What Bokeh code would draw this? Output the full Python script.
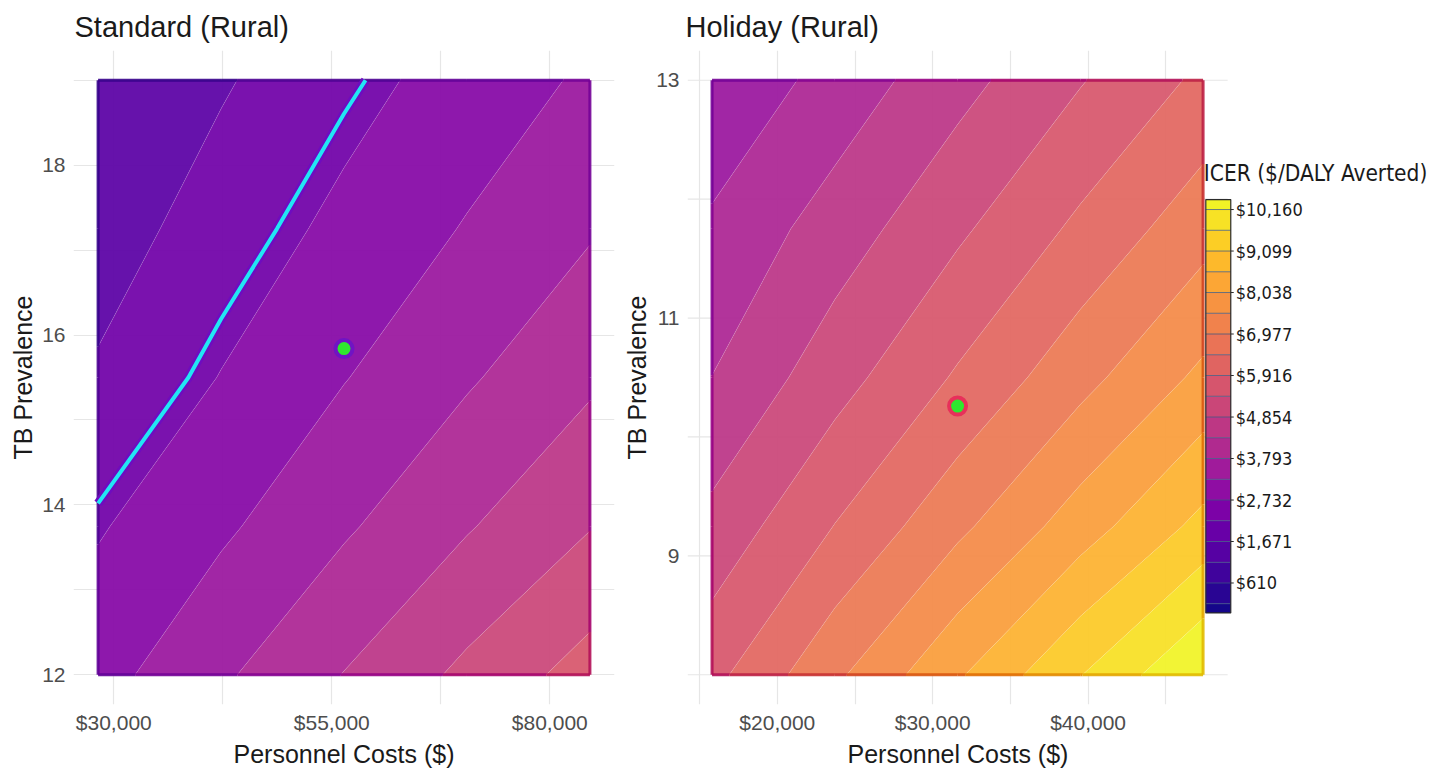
import colorsys
import numpy as np
from bokeh.plotting import figure
from bokeh.layouts import row
from bokeh.models import FixedTicker, Range1d, NumeralTickFormatter, Title
from bokeh.palettes import Plasma256
from bokeh.embed import file_html
from bokeh.resources import INLINE
from bokeh.core.properties import value

# ---------------- data ----------------
std_title = "Standard (Rural)"
hol_title = "Holiday (Rural)"
x_label = "Personnel Costs ($)"
y_label = "TB Prevalence"
cbar_title = "ICER ($/DALY Averted)"

# Standard (Rural): ICER grid, rows = TB prevalence, cols = personnel cost
std_cost = [28200, 42300, 56400, 70500, 84600]
std_prev = [12.0, 13.75, 15.5, 17.25, 19.0]
std_icer = [
    [3600, 4240, 4870, 5510, 6140],
    [3215, 3700, 4250, 4810, 5360],
    [2790, 3280, 3770, 4260, 4760],
    [2510, 2950, 3390, 3830, 4270],
    [2280, 2680, 3080, 3480, 3880],
]
std_base_cost = [56400]
std_base_prev = [15.84]
std_threshold = 3150

# Holiday (Rural)
hol_cost = [15800, 23700, 31600, 39500, 47400]
hol_prev = [8.0, 9.25, 10.5, 11.75, 13.0]
hol_icer = [
    [6290, 7400, 8500, 9610, 10710],
    [5546, 6460, 7380, 8310, 9260],
    [4861, 5700, 6510, 7330, 8160],
    [4414, 5100, 5820, 6560, 7300],
    [3880, 4520, 5200, 5880, 6560],
]
hol_base_cost = [31600]
hol_base_prev = [10.26]

cbar_ticks = [610, 1671, 2732, 3793, 4854, 5916, 6977, 8038, 9099, 10160]
cbar_low, cbar_high = -156, 10415

std_xticks = [30000, 55000, 80000]
std_xgrid = [30000, 42500, 55000, 67500, 80000]
std_yticks = [12, 14, 16, 18]
std_ygrid = [12, 13, 14, 15, 16, 17, 18, 19]
hol_xticks = [20000, 30000, 40000]
hol_xgrid = [15000, 20000, 25000, 30000, 35000, 40000, 45000]
hol_yticks = [9, 11, 13]
hol_ygrid = [8, 9, 10, 11, 12, 13]

# ---------------- contour levels / colours ----------------
half = (cbar_ticks[1] - cbar_ticks[0]) / 2
levels = [cbar_low, cbar_ticks[0] - half]
for a, b in zip(cbar_ticks, cbar_ticks[1:]):
    levels += [a, (a + b) / 2]
levels += [cbar_ticks[-1]]
fill_levels = levels + [11000]
band_lo = fill_levels[:-1]
band_hi = fill_levels[1:]
band_mid = [(lo + min(hi, cbar_high)) / 2 for lo, hi in zip(band_lo, band_hi)]

PLOT_LOW = 951   # colour scale start used inside the panels


def plasma_t(t):
    return Plasma256[max(0, min(255, int(round(t * 255))))]


cbar_colors = [plasma_t((m - cbar_low) / (cbar_high - cbar_low)) for m in band_mid]
fill_colors = [plasma_t((m - PLOT_LOW) / (cbar_high - PLOT_LOW)) for m in band_mid]


def edge_colour(t):
    c = plasma_t(t)
    r, g, b = int(c[1:3], 16) / 255, int(c[3:5], 16) / 255, int(c[5:7], 16) / 255
    h, s, v = colorsys.rgb_to_hsv(r, g, b)
    r, g, b = colorsys.hsv_to_rgb(h, min(1.0, s * 1.35), v * 0.9)
    return "#%02x%02x%02x" % (int(r * 255), int(g * 255), int(b * 255))


edge_by_level = {}
for lo, m in zip(band_lo, band_mid):
    edge_by_level[round(lo, 3)] = edge_colour((m - PLOT_LOW) / (cbar_high - PLOT_LOW) - 0.07)

FONT = "Liberation Sans"
NARROW = "DejaVu Sans Condensed, DejaVu Sans, sans-serif"
GRID = "#e6e6e6"
H = 770


def style(p, title_offset):
    p.title.text_font = FONT
    p.title.text_font_size = "29px"
    p.title.text_font_style = "normal"
    p.title.text_color = "#1a1a1a"
    p.title.align = "left"
    p.title.offset = title_offset
    p.title.standoff = 16
    p.outline_line_color = None
    p.background_fill_color = "white"
    p.border_fill_color = "white"
    for ax in (p.xaxis[0], p.yaxis[0]):
        ax.axis_line_color = None
        ax.major_tick_line_color = None
        ax.minor_tick_line_color = None
        ax.major_tick_out = 0
        ax.major_tick_in = 0
        ax.minor_tick_out = 0
        ax.minor_tick_in = 0
        ax.major_label_text_font = FONT
        ax.major_label_text_font_size = "21px"
        ax.major_label_text_color = "#4d4d4d"
        ax.axis_label_text_font = FONT
        ax.axis_label_text_font_size = "25px"
        ax.axis_label_text_font_style = "normal"
        ax.axis_label_text_color = "#1a1a1a"
    p.xaxis[0].major_label_standoff = 6
    p.xaxis[0].axis_label_standoff = 3
    p.yaxis[0].major_label_standoff = 8
    p.yaxis[0].axis_label_standoff = 2
    p.xaxis[0].formatter = NumeralTickFormatter(format="$0,0")
    p.yaxis.axis_label = y_label
    p.grid.grid_line_color = GRID
    p.grid.grid_line_width = 1.2


def add_edges(p, cr, xs_dom, ys_dom):
    """Darker outline of the filled area, coloured per band (as in the original)."""
    try:
        d = cr.fill_renderer.data_source.data
        xmin, xmax = min(xs_dom), max(xs_dom)
        ymin, ymax = min(ys_dom), max(ys_dom)
        ex = (xmax - xmin) * 1e-6
        ey = (ymax - ymin) * 1e-6
        x0, y0, x1, y1, cs = [], [], [], [], []
        for xb, yb, lo in zip(d["xs"], d["ys"], d["lower_levels"]):
            col = edge_by_level.get(round(float(lo), 3), "#333333")
            for xp, yp in zip(xb, yb):
                for xr, yr in zip(xp, yp):
                    xr = np.asarray(xr, dtype=float)
                    yr = np.asarray(yr, dtype=float)
                    n = len(xr)
                    for i in range(n):
                        j = (i + 1) % n
                        xa, ya, xb2, yb2 = xr[i], yr[i], xr[j], yr[j]
                        on = ((abs(xa - xmin) < ex and abs(xb2 - xmin) < ex) or
                              (abs(xa - xmax) < ex and abs(xb2 - xmax) < ex) or
                              (abs(ya - ymin) < ey and abs(yb2 - ymin) < ey) or
                              (abs(ya - ymax) < ey and abs(yb2 - ymax) < ey))
                        if on and (xa != xb2 or ya != yb2):
                            x0.append(xa); y0.append(ya); x1.append(xb2); y1.append(yb2); cs.append(col)
        if x0:
            p.segment(x0=x0, y0=y0, x1=x1, y1=y1, line_color=cs, line_width=3, line_alpha=0.9)
    except Exception:
        pass


# ---------------- left panel ----------------
p1 = figure(width=620, height=H, x_range=Range1d(25380, 87420), y_range=Range1d(11.65, 19.35),
            output_backend="svg", toolbar_location=None, title=std_title,
            min_border_left=73, min_border_right=6, min_border_top=50, min_border_bottom=65)
style(p1, 1)
p1.xaxis.axis_label = x_label
p1.xaxis[0].ticker = FixedTicker(ticks=std_xticks, minor_ticks=[])
p1.yaxis[0].ticker = FixedTicker(ticks=std_yticks, minor_ticks=[])
p1.xgrid[0].ticker = FixedTicker(ticks=std_xgrid)
p1.ygrid[0].ticker = FixedTicker(ticks=std_ygrid)

z1 = np.array(std_icer, dtype=float)
cr1 = p1.contour(x=std_cost, y=std_prev, z=z1, levels=fill_levels, fill_color=fill_colors,
                 fill_alpha=0.93, line_color="white", line_alpha=0.14, line_width=1)
add_edges(p1, cr1, std_cost, std_prev)
p1.contour(x=std_cost, y=std_prev, z=z1, levels=[std_threshold], line_color="#6e0cc0", line_width=9)
p1.contour(x=std_cost, y=std_prev, z=z1, levels=[std_threshold], line_color="#22e6f4", line_width=4)
p1.scatter(x=std_base_cost, y=std_base_prev, size=17, fill_color="#2fe82f",
           line_color="#7014c4", line_width=4)

# ---------------- right panel (+ colour bar) ----------------
p2 = figure(width=810, height=H, x_range=Range1d(14220, 62035), y_range=Range1d(7.75, 13.25),
            output_backend="svg", toolbar_location=None, title=hol_title,
            min_border_left=66, min_border_right=0, min_border_top=50, min_border_bottom=65)
style(p2, -2)
p2.xaxis[0].ticker = FixedTicker(ticks=hol_xticks, minor_ticks=[])
p2.yaxis[0].ticker = FixedTicker(ticks=hol_yticks, minor_ticks=[])
p2.xgrid[0].ticker = FixedTicker(ticks=hol_xgrid)
p2.ygrid[0].visible = False
p2.segment(x0=[14220] * len(hol_ygrid), x1=[48980] * len(hol_ygrid), y0=hol_ygrid, y1=hol_ygrid,
           line_color=GRID, line_width=1.2, level="underlay")
# x axis title centred under the panel (the frame also holds the colour bar)
p2.add_layout(Title(text=x_label, align="left", offset=160, standoff=3, text_font=FONT,
                    text_font_size="25px", text_font_style="normal", text_color="#1a1a1a"), "below")

z2 = np.array(hol_icer, dtype=float)
cr2 = p2.contour(x=hol_cost, y=hol_prev, z=z2, levels=fill_levels, fill_color=fill_colors,
                 fill_alpha=0.93, line_color="white", line_alpha=0.14, line_width=1)
add_edges(p2, cr2, hol_cost, hol_prev)
p2.scatter(x=hol_base_cost, y=hol_base_prev, size=17, fill_color="#2fe82f",
           line_color="#e8305a", line_width=4)

# colour bar drawn with its own scales
p2.extra_x_ranges = {"cb": Range1d(0, 744)}
p2.extra_y_ranges = {"cb": Range1d(-2497, 14227)}
cb_l, cb_r = 519, 544
p2.quad(left=cb_l, right=cb_r, bottom=band_lo, top=[min(h, cbar_high) for h in band_hi],
        fill_color=cbar_colors, line_color=None, x_range_name="cb", y_range_name="cb")
p2.segment(x0=cb_l, x1=cb_r, y0=levels[1:], y1=levels[1:], line_color="#3b5580", line_alpha=0.75,
           line_width=1, x_range_name="cb", y_range_name="cb")
p2.quad(left=cb_l, right=cb_r, bottom=cbar_low, top=cbar_high, fill_color=None,
        line_color="#2b2b2b", line_width=1.2, x_range_name="cb", y_range_name="cb")
p2.segment(x0=cb_r, x1=cb_r + 3, y0=cbar_ticks, y1=cbar_ticks, line_color="#2b2b2b",
           line_width=1, x_range_name="cb", y_range_name="cb")
p2.text(x=cb_r + 5, y=cbar_ticks, text=[f"${v:,}" for v in cbar_ticks], text_baseline="middle",
        text_align="left", text_font=value(NARROW), text_font_size="18px", text_color="#1a1a1a",
        x_range_name="cb", y_range_name="cb")
p2.text(x=[cb_l - 2], y=[11087], text=[cbar_title], text_baseline="middle", text_align="left",
        text_font=value(NARROW), text_font_size="22.5px", text_color="#1a1a1a",
        x_range_name="cb", y_range_name="cb")

layout = row(p1, p2)
open("out.html", "w").write(file_html(layout, INLINE))
